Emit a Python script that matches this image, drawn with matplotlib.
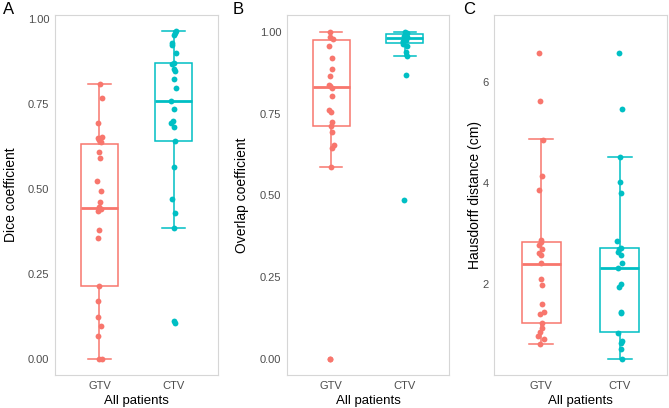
import numpy as np
import matplotlib
matplotlib.use("Agg")
import matplotlib.pyplot as plt

plt.rcParams['font.family'] = ['Liberation Sans', 'DejaVu Sans']

#                            Data                          #
groups = ["GTV", "CTV"]
colors = ["#F8766D", "#00BFC4"]

# Panel A - Dice coefficient
dice_gtv = [0.807, 0.768, 0.694, 0.652, 0.648, 0.642, 0.636, 0.608, 0.589, 0.524,
            0.494, 0.460, 0.446, 0.440, 0.435, 0.378, 0.354, 0.214, 0.171, 0.124,
            0.095, 0.066, 0.0, 0.0]
dice_ctv = [0.963, 0.958, 0.953, 0.930, 0.924, 0.900, 0.871, 0.866, 0.851, 0.846,
            0.822, 0.797, 0.759, 0.735, 0.699, 0.693, 0.683, 0.639, 0.565, 0.470,
            0.429, 0.384, 0.110, 0.105]
dice_stats = {"q1": [0.214, 0.639], "med": [0.442, 0.759], "q3": [0.632, 0.869],
              "lo": [0.0, 0.384], "hi": [0.807, 0.963]}

# Panel B - Overlap coefficient
overlap_gtv = [1.0, 0.984, 0.979, 0.958, 0.919, 0.886, 0.866, 0.839, 0.835, 0.829,
               0.804, 0.760, 0.755, 0.724, 0.713, 0.693, 0.655, 0.645, 0.587, 0.0, 0.0]
overlap_ctv = [1.0, 0.996, 0.992, 0.988, 0.984, 0.980, 0.976, 0.972, 0.968, 0.963,
               0.958, 0.938, 0.925, 0.867, 0.486]
overlap_stats = {"q1": [0.713, 0.965], "med": [0.832, 0.982], "q3": [0.976, 0.994],
                 "lo": [0.587, 0.925], "hi": [1.0, 1.0]}

# Panel C - Hausdorff distance
haus_gtv = [6.58, 5.62, 4.86, 4.15, 3.86, 2.88, 2.84, 2.78, 2.69, 2.62, 2.58, 2.43,
            2.10, 1.99, 1.60, 1.45, 1.42, 1.23, 1.13, 1.05, 0.98, 0.92, 0.82]
haus_ctv = [6.57, 5.47, 4.52, 4.02, 3.81, 2.86, 2.72, 2.69, 2.63, 2.58, 2.42, 2.32,
            2.01, 1.95, 1.46, 1.43, 1.04, 0.88, 0.83, 0.71, 0.53]
haus_stats = {"q1": [1.23, 1.05], "med": [2.41, 2.32], "q3": [2.84, 2.71],
              "lo": [0.82, 0.53], "hi": [4.87, 4.52]}


#                            Plotting Functions                          #
def boxPanel(ax, values, stats, yticks, yticklabels, ylim, ylabel, seed):
    # Boxes from the stats
    bxstats = []
    for i in range(2):
        bxstats.append(dict(med=stats["med"][i], q1=stats["q1"][i], q3=stats["q3"][i],
                            whislo=stats["lo"][i], whishi=stats["hi"][i], fliers=[]))
    bp = ax.bxp(bxstats, positions=[1, 2], widths=0.5, capwidths=0.3,
                showfliers=False, patch_artist=True, zorder=2)
    for i, c in enumerate(colors):
        bp["boxes"][i].set(facecolor="white", edgecolor=c, linewidth=1.1)
        bp["medians"][i].set(color=c, linewidth=2.0)
        for w in bp["whiskers"][2*i:2*i+2]:
            w.set(color=c, linewidth=1.1)
        for cp in bp["caps"][2*i:2*i+2]:
            cp.set(color=c, linewidth=1.1)

    # Jittered points on top
    rng = np.random.default_rng(seed)
    for i, vals in enumerate(values):
        x = (i + 1) + rng.uniform(-0.035, 0.035, len(vals))
        ax.plot(x, vals, "o", color=colors[i], markersize=4.2, markeredgewidth=0, zorder=3)

    ax.set_xlim(0.4, 2.6)
    ax.set_ylim(*ylim)
    ax.set_xticks([1, 2])
    ax.set_xticklabels(groups)
    ax.set_yticks(yticks)
    ax.set_yticklabels(yticklabels)
    ax.tick_params(length=0, pad=4, labelsize=8, labelcolor="#4D4D4D")
    for s in ax.spines.values():
        s.set_color("#D6D6D6")
        s.set_linewidth(0.8)
    ax.set_xlabel("All patients", fontsize=9.5)
    ax.set_ylabel(ylabel, fontsize=10)


fig = plt.figure(figsize=(6.69, 4.08), dpi=100)
W, H = 669, 408

def addAx(left, right, top=15, bottom=375):
    return fig.add_axes([left / W, (H - bottom) / H, (right - left) / W, (bottom - top) / H])

axA = addAx(55, 218)
axB = addAx(287, 449)
axC = addAx(494, 667)

boxPanel(axA, [dice_gtv, dice_ctv], dice_stats, [0, 0.25, 0.5, 0.75, 1.0],
         ["0.00", "0.25", "0.50", "0.75", "1.00"], (-0.048, 1.011), "Dice coefficient", 1)
boxPanel(axB, [overlap_gtv, overlap_ctv], overlap_stats, [0, 0.25, 0.5, 0.75, 1.0],
         ["0.00", "0.25", "0.50", "0.75", "1.00"], (-0.05, 1.052), "Overlap coefficient", 2)
boxPanel(axC, [haus_gtv, haus_ctv], haus_stats, [2, 4, 6],
         ["2", "4", "6"], (0.204, 7.33), "Hausdorff distance (cm)", 3)

# Label placement
axA.yaxis.set_label_coords(-0.23, 0.5)
axB.yaxis.set_label_coords(-0.235, 0.5)
axC.yaxis.set_label_coords(-0.072, 0.5)
for ax in (axA, axB, axC):
    ax.xaxis.set_label_coords(0.5, -0.055)

fig.text(3 / W, 1 - 10 / H, "A", fontsize=12, va="center", ha="left")
fig.text(233 / W, 1 - 10 / H, "B", fontsize=12, va="center", ha="left")
fig.text(463 / W, 1 - 10 / H, "C", fontsize=12, va="center", ha="left")

plt.savefig("out.png", dpi=100)
